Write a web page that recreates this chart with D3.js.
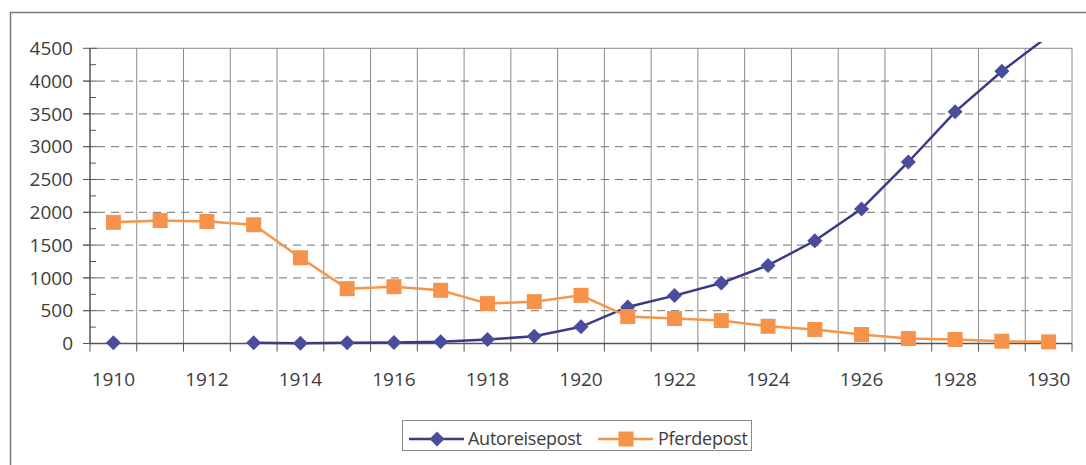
<!DOCTYPE html>
<html lang="de">
<head>
<meta charset="utf-8">
<script src="https://d3js.org/d3.v7.min.js"></script>
<style>
body { margin: 0; background: #fff; }
svg text { font-family: "Open Sans", "Noto Sans", sans-serif; fill: #3c3c3c; }
</style>
</head>
<body>
<div id="chart"></div>
<script>
// years on the category axis
var years = d3.range(1910, 1931);
// values (null = no point)
var autoreisepost = [10, null, null, 10, 3, 10, 15, 25, 60, 110, 254, 557, 730, 922, 1190, 1566, 2052, 2767, 3532, 4150, 4690];
var pferdepost = [1847, 1875, 1860, 1810, 1307, 836, 866, 811, 608, 638, 734, 410, 380, 350, 263, 213, 137, 76, 61, 35, 25];
var yTicks = d3.range(0, 4501, 500);
var seriesNames = ["Autoreisepost", "Pferdepost"];

var width = 1086, height = 465;
var plotLeft = 90, plotRight = 1072, plotTop = 48.3, plotBottom = 343.5;

var svg = d3.select("#chart").append("svg")
  .attr("width", width)
  .attr("height", height);

// outer frame (top + left only)
svg.append("path")
  .attr("d", "M10.5,465V12.5H1086")
  .attr("fill", "none")
  .attr("stroke", "#777")
  .attr("stroke-width", 1.5);

var x = d3.scaleBand().domain(years).range([plotLeft, plotRight]).padding(0);
var y = d3.scaleLinear().domain([0, 4500]).range([plotBottom, plotTop]);

var grid = svg.append("g");

// horizontal dashed grid
grid.selectAll("line.h")
  .data(yTicks.filter(function(d) { return d > 0 && d < 4500; }))
  .enter().append("line")
  .attr("x1", plotLeft - 7).attr("x2", plotRight)
  .attr("y1", function(d) { return y(d); })
  .attr("y2", function(d) { return y(d); })
  .attr("stroke", "#707070")
  .attr("stroke-dasharray", "8,6");

// vertical grid at category boundaries
var bounds = years.map(function(d) { return x(d); }).concat([plotRight]);
grid.selectAll("line.v")
  .data(bounds.slice(1))
  .enter().append("line")
  .attr("x1", function(d) { return d; }).attr("x2", function(d) { return d; })
  .attr("y1", plotTop).attr("y2", plotBottom)
  .attr("stroke", "#8a8a8a");

// plot box top
grid.append("line")
  .attr("x1", plotLeft).attr("x2", plotRight)
  .attr("y1", plotTop).attr("y2", plotTop)
  .attr("stroke", "#8a8a8a");

// y axis with minor ticks
var yAxis = svg.append("g");
yAxis.append("line")
  .attr("x1", plotLeft).attr("x2", plotLeft).attr("y1", plotTop).attr("y2", plotBottom)
  .attr("stroke", "#555").attr("stroke-width", 1.5);
yAxis.selectAll("line.major")
  .data(yTicks).enter().append("line")
  .attr("x1", plotLeft - 7).attr("x2", plotLeft + 7)
  .attr("y1", function(d) { return y(d); }).attr("y2", function(d) { return y(d); })
  .attr("stroke", "#555");
yAxis.selectAll("line.minor")
  .data(d3.range(250, 4500, 500)).enter().append("line")
  .attr("x1", plotLeft).attr("x2", plotLeft + 6)
  .attr("y1", function(d) { return y(d); }).attr("y2", function(d) { return y(d); })
  .attr("stroke", "#555");
yAxis.selectAll("text")
  .data(yTicks).enter().append("text")
  .attr("x", 73)
  .attr("y", function(d) { return y(d); })
  .attr("dy", "0.35em")
  .attr("text-anchor", "end")
  .style("font-size", "19px")
  .text(function(d) { return d; });

// x axis
var xAxis = svg.append("g");
xAxis.append("line")
  .attr("x1", plotLeft).attr("x2", plotRight).attr("y1", plotBottom).attr("y2", plotBottom)
  .attr("stroke", "#555").attr("stroke-width", 1.5);
xAxis.selectAll("line.tick")
  .data(bounds).enter().append("line")
  .attr("x1", function(d) { return d; }).attr("x2", function(d) { return d; })
  .attr("y1", plotBottom).attr("y2", plotBottom + 8)
  .attr("stroke", "#555");
xAxis.selectAll("text")
  .data(years.filter(function(d) { return d % 2 === 0; }))
  .enter().append("text")
  .attr("x", function(d) { return x(d) + x.bandwidth() / 2; })
  .attr("y", 386)
  .attr("text-anchor", "middle")
  .style("font-size", "19px")
  .text(function(d) { return d; });

svg.append("clipPath").attr("id", "clip")
  .append("rect")
  .attr("x", plotLeft).attr("y", 42)
  .attr("width", plotRight - plotLeft + 20).attr("height", 320);

var cx = function(i) { return x(years[i]) + x.bandwidth() / 2; };

var line = d3.line()
  .defined(function(d) { return d != null; })
  .x(function(d, i) { return cx(i); })
  .y(function(d) { return y(d); });

var purpleLine = "#3b3a86", purpleFill = "#4a4d9c";
var orangeLine = "#f79548", orangeFill = "#f7924a";

// diamond marker
var diamond = "M0,-7.5L7.5,0L0,7.5L-7.5,0Z";
var sq = 15;

// Autoreisepost
svg.append("path")
  .attr("d", line(autoreisepost))
  .attr("clip-path", "url(#clip)")
  .attr("fill", "none")
  .attr("stroke", purpleLine)
  .attr("stroke-width", 2.5);

svg.append("g").selectAll("path")
  .data(autoreisepost.map(function(v, i) { return {v: v, i: i}; })
    .filter(function(d) { return d.v != null && d.v <= 4500; }))
  .enter().append("path")
  .attr("d", diamond)
  .attr("transform", function(d) { return "translate(" + cx(d.i) + "," + y(d.v) + ")"; })
  .attr("fill", purpleFill);

// Pferdepost
svg.append("path")
  .attr("d", line(pferdepost))
  .attr("clip-path", "url(#clip)")
  .attr("fill", "none")
  .attr("stroke", orangeLine)
  .attr("stroke-width", 2.5);

svg.append("g").selectAll("rect")
  .data(pferdepost)
  .enter().append("rect")
  .attr("x", function(d, i) { return cx(i) - sq / 2; })
  .attr("y", function(d) { return y(d) - sq / 2; })
  .attr("width", sq).attr("height", sq)
  .attr("fill", orangeFill);

// legend
var lg = svg.append("g");
lg.append("rect")
  .attr("x", 402.5).attr("y", 420.5)
  .attr("width", 349).attr("height", 30)
  .attr("fill", "#fff")
  .attr("stroke", "#8a8a8a");

var legendItems = [
  {name: seriesNames[0], x0: 409, stroke: purpleLine, fill: purpleFill, shape: "diamond", tx: 468},
  {name: seriesNames[1], x0: 598, stroke: orangeLine, fill: orangeFill, shape: "square", tx: 658}
];
legendItems.forEach(function(d) {
  lg.append("line")
    .attr("x1", d.x0).attr("x2", d.x0 + 55)
    .attr("y1", 439).attr("y2", 439)
    .attr("stroke", d.stroke).attr("stroke-width", 2.5);
  if (d.shape === "diamond") {
    lg.append("path")
      .attr("d", diamond)
      .attr("transform", "translate(" + (d.x0 + 28) + ",439)")
      .attr("fill", d.fill);
  } else {
    lg.append("rect")
      .attr("x", d.x0 + 28 - sq / 2).attr("y", 439 - sq / 2)
      .attr("width", sq).attr("height", sq)
      .attr("fill", d.fill);
  }
  lg.append("text")
    .attr("x", d.tx).attr("y", 439)
    .attr("dy", "0.35em")
    .style("font-size", "18px")
    .attr("textLength", d.name === seriesNames[0] ? 114 : 90)
    .text(d.name);
});
</script>
</body>
</html>
